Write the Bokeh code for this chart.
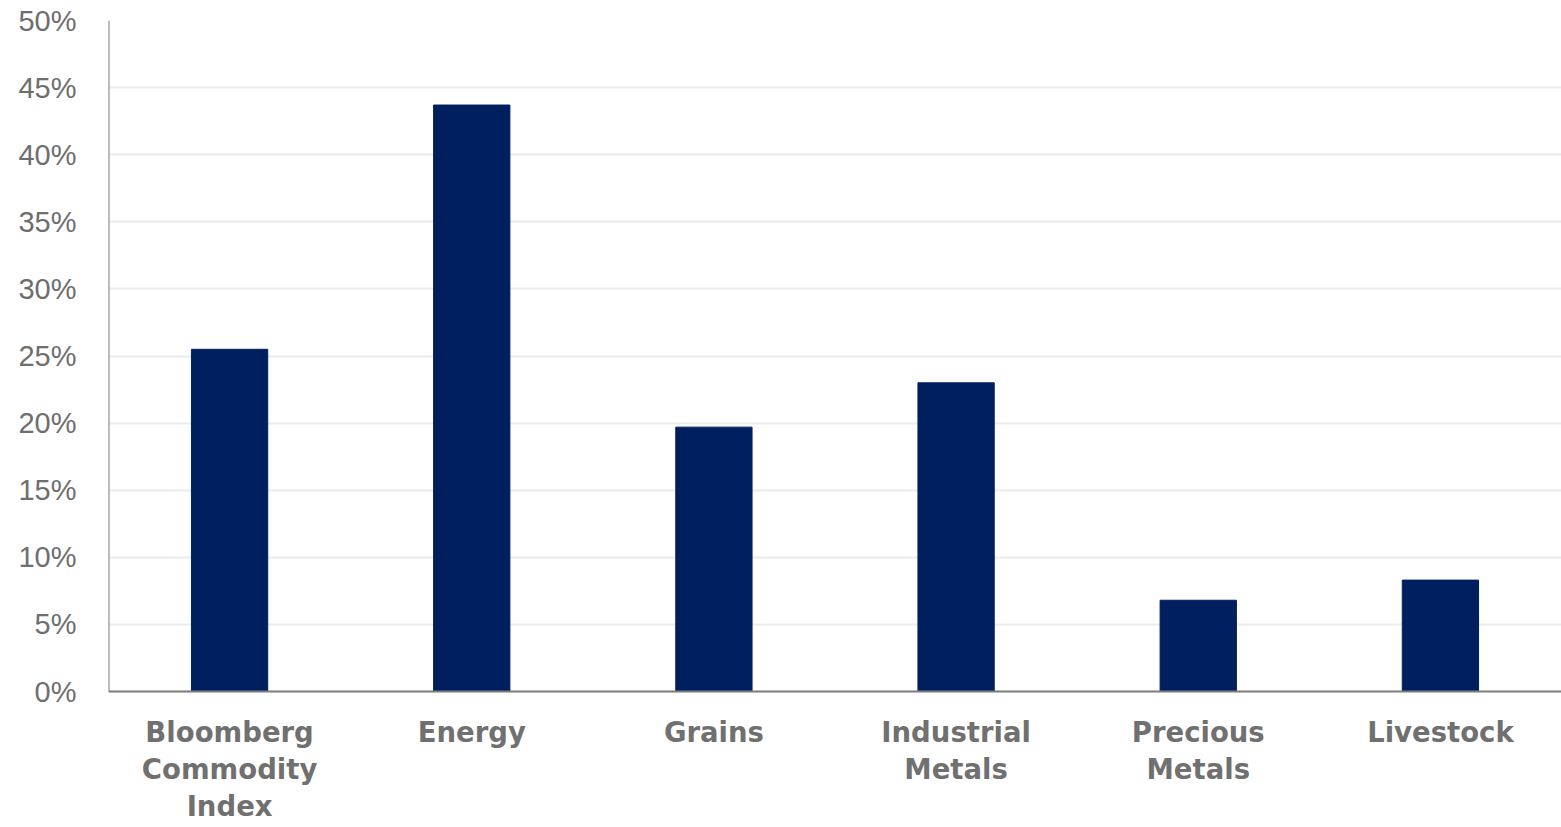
from bokeh.plotting import figure
from bokeh.models import NumeralTickFormatter, FixedTicker, Range1d, Span
from bokeh.core.properties import value
from bokeh.embed import file_html
from bokeh.resources import INLINE

# Sector returns (fraction)
categories = ["Bloomberg Commodity Index", "Energy", "Grains",
              "Industrial Metals", "Precious Metals", "Livestock"]
category_labels = ["Bloomberg\nCommodity\nIndex", "Energy", "Grains",
                   "Industrial\nMetals", "Precious\nMetals", "Livestock"]
returns = [0.255, 0.437, 0.197, 0.230, 0.068, 0.083]
y_ticks = [0.0, 0.05, 0.10, 0.15, 0.20, 0.25, 0.30, 0.35, 0.40, 0.45, 0.50]

Y_MAX = 0.5
PX_TOP, PX_ZERO, PX_BOTTOM = 20, 691, 827
units_per_px = Y_MAX / (PX_ZERO - PX_TOP)
y_min = -(PX_BOTTOM - PX_ZERO) * units_per_px   # room for the category labels

p = figure(x_range=categories, y_range=Range1d(y_min, Y_MAX),
           width=1561, height=827, output_backend="svg",
           toolbar_location=None,
           min_border_left=108, min_border_right=0,
           min_border_top=PX_TOP, min_border_bottom=0)

p.vbar(x=categories, top=returns, width=0.315, color="#001f5f")

p.outline_line_color = None
p.background_fill_color = "white"
p.border_fill_color = "white"

p.xgrid.grid_line_color = None
p.ygrid.grid_line_color = "#ebebeb"
p.ygrid.grid_line_width = 2

p.yaxis.ticker = FixedTicker(ticks=y_ticks)
p.yaxis.formatter = NumeralTickFormatter(format="0%")
p.yaxis.major_tick_line_color = None
p.yaxis.minor_tick_line_color = None
p.yaxis.axis_line_color = None
p.yaxis.major_label_text_font = "Liberation Sans"
p.yaxis.major_label_text_font_size = "29px"
p.yaxis.major_label_text_color = "#6e6e6e"
p.yaxis.major_label_standoff = 26
p.xaxis.visible = False

# axis lines: vertical from 0% to 50%, horizontal baseline at 0%
p.segment(x0=0, y0=0, x1=0, y1=Y_MAX, line_color="#7f7f7f", line_width=2)
p.add_layout(Span(location=0, dimension="width", line_color="#7f7f7f", line_width=2))

# category labels under the baseline
p.text(x=categories, y=-24 * units_per_px, text=category_labels,
       text_align="center", text_baseline="top",
       text_font=value("DejaVu Sans"), text_font_style="bold",
       text_font_size="27.5px", text_color="#707070",
       text_line_height=1.16)

open("out.html", "w").write(file_html(p, INLINE))
